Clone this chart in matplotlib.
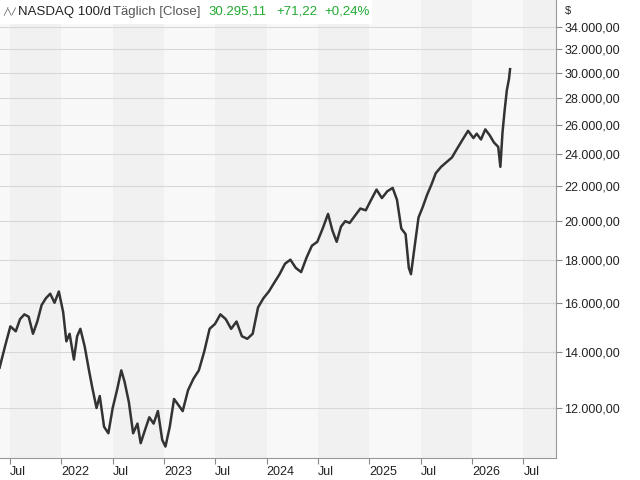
import numpy as np
import matplotlib.pyplot as plt
from matplotlib.patches import Rectangle

# Zeitachse in Dezimaljahren (grob abgelesen, unten auf die Achse kalibriert), Werte geschätzt
t_raw = [2021.45, 2021.50, 2021.55, 2021.60, 2021.64, 2021.68, 2021.72, 2021.76, 2021.80, 2021.84,
         2021.88, 2021.92, 2021.96, 2022.00, 2022.04, 2022.07, 2022.10, 2022.14, 2022.17, 2022.20,
         2022.24, 2022.28, 2022.31, 2022.35, 2022.38, 2022.42, 2022.46, 2022.50, 2022.54, 2022.58,
         2022.61, 2022.65, 2022.69, 2022.73, 2022.76, 2022.80, 2022.84, 2022.88, 2022.92, 2022.96,
         2022.99, 2023.03, 2023.07, 2023.11, 2023.15, 2023.20, 2023.25, 2023.30, 2023.35, 2023.40,
         2023.45, 2023.50, 2023.55, 2023.60, 2023.65, 2023.70, 2023.75, 2023.80, 2023.85, 2023.90,
         2023.95, 2024.00, 2024.05, 2024.10, 2024.15, 2024.20, 2024.25, 2024.30, 2024.35, 2024.40,
         2024.45, 2024.50, 2024.54, 2024.58, 2024.62, 2024.66, 2024.70, 2024.75, 2024.80, 2024.85,
         2024.90, 2024.95, 2025.00, 2025.05, 2025.10, 2025.14, 2025.18, 2025.22, 2025.25, 2025.27,
         2025.30, 2025.34, 2025.38, 2025.42, 2025.46, 2025.50, 2025.55, 2025.60, 2025.65, 2025.70,
         2025.75, 2025.80, 2025.85, 2025.88, 2025.92, 2025.96, 2026.00, 2026.04, 2026.08, 2026.10,
         2026.12, 2026.14, 2026.16, 2026.18, 2026.19]
v = [13400, 14200, 15000, 14800, 15300, 15500, 15400, 14700, 15200, 15900,
     16200, 16400, 16000, 16500, 15600, 14400, 14700, 13700, 14600, 14900,
     14200, 13300, 12700, 12000, 12400, 11400, 11200, 12000, 12600, 13300,
     12900, 12200, 11200, 11500, 10900, 11300, 11700, 11500, 11900, 11000,
     10800, 11400, 12300, 12100, 11900, 12600, 13000, 13300, 14000, 14900,
     15100, 15500, 15300, 14900, 15200, 14600, 14500, 14700, 15800, 16200,
     16500, 16900, 17300, 17800, 18000, 17600, 17400, 18100, 18700, 18900,
     19600, 20400, 19500, 18900, 19700, 20000, 19900, 20300, 20700, 20600,
     21200, 21800, 21300, 21700, 21900, 21200, 19600, 19300, 17600, 17300,
     18500, 20200, 20800, 21500, 22100, 22800, 23200, 23500, 23800, 24400,
     25000, 25600, 25100, 25400, 25000, 25700, 25300, 24800, 24500, 23200,
     25500, 27100, 28600, 29500, 30300]
t_start, t_end = 2021.40, 2026.37

yticks = [12000, 14000, 16000, 18000, 20000, 22000, 24000, 26000, 28000, 30000, 32000, 34000]
xticks = [2021.5, 2022, 2022.5, 2023, 2023.5, 2024, 2024.5, 2025, 2025.5, 2026, 2026.5]
xlabels = ['Jul', '2022', 'Jul', '2023', 'Jul', '2024', 'Jul', '2025', 'Jul', '2026', 'Jul']

t = t_start + (np.array(t_raw) - t_raw[0]) * (t_end - t_start) / (t_raw[-1] - t_raw[0])

plt.rcParams['font.family'] = ['Liberation Sans', 'DejaVu Sans']
W, H = 640, 480
fig = plt.figure(figsize=(6.4, 4.8), dpi=100)
ax = fig.add_axes([0, 1 - 458 / H, 556 / W, 458 / H])
ppy = 104
ax.set_xlim(2021.5 - 10 / ppy, 2026 + 85 / ppy)
ax.set_yscale('log')
ax.set_ylim(12000 * np.exp(-50 / 366), 34000 * np.exp(27 / 366))

# Halbjahres-Bänder
ax.set_facecolor('#f8f8f8')
for yr in range(2020, 2027):
    ax.axvspan(yr + 0.5, yr + 1.0, color='#f1f1f1', zorder=0, lw=0)

ax.plot(t, v, color='#333333', lw=1.8, zorder=3)

ax.yaxis.tick_right()
ax.set_yticks(yticks)
ax.set_yticklabels([f'{y:,.2f}'.replace(',', 'X').replace('.', ',').replace('X', '.') for y in yticks])
ax.yaxis.set_minor_locator(plt.NullLocator())
ax.set_xticks(xticks)
ax.set_xticklabels(xlabels, ha='left')
ax.tick_params(axis='both', labelsize=9, colors='#222222', length=4, color='#888888', pad=2)
ax.grid(axis='y', color='#d8d8d8', lw=0.8, zorder=1)
for s in ['left', 'top']:
    ax.spines[s].set_visible(False)
for s in ['right', 'bottom']:
    ax.spines[s].set_color('#999999')

fig.text(565 / W, 1 - 11 / H, '$', fontsize=8, va='center', color='#222222')
fig.patches.append(Rectangle((0, 1 - 24 / H), 372 / W, 24 / H, transform=fig.transFigure,
                             color='white', zorder=4, lw=0))
hy = 1 - 12 / H
fig.text(3 / W, hy, '╱╲╱', fontsize=5, va='center', zorder=5, color='#333333')
fig.text(18 / W, hy, 'NASDAQ 100/d', fontsize=9.5, va='center', zorder=5, color='#222222')
fig.text(113 / W, hy, 'Täglich [Close]', fontsize=9.5, va='center', zorder=5, color='#555555')
fig.text(208 / W, hy, '30.295,11', fontsize=9.5, va='center', zorder=5, color='#22aa33')
fig.text(276 / W, hy, '+71,22', fontsize=9.5, va='center', zorder=5, color='#22aa33')
fig.text(324 / W, hy, '+0,24%', fontsize=9.5, va='center', zorder=5, color='#22aa33')

plt.savefig('out.png', dpi=100)
